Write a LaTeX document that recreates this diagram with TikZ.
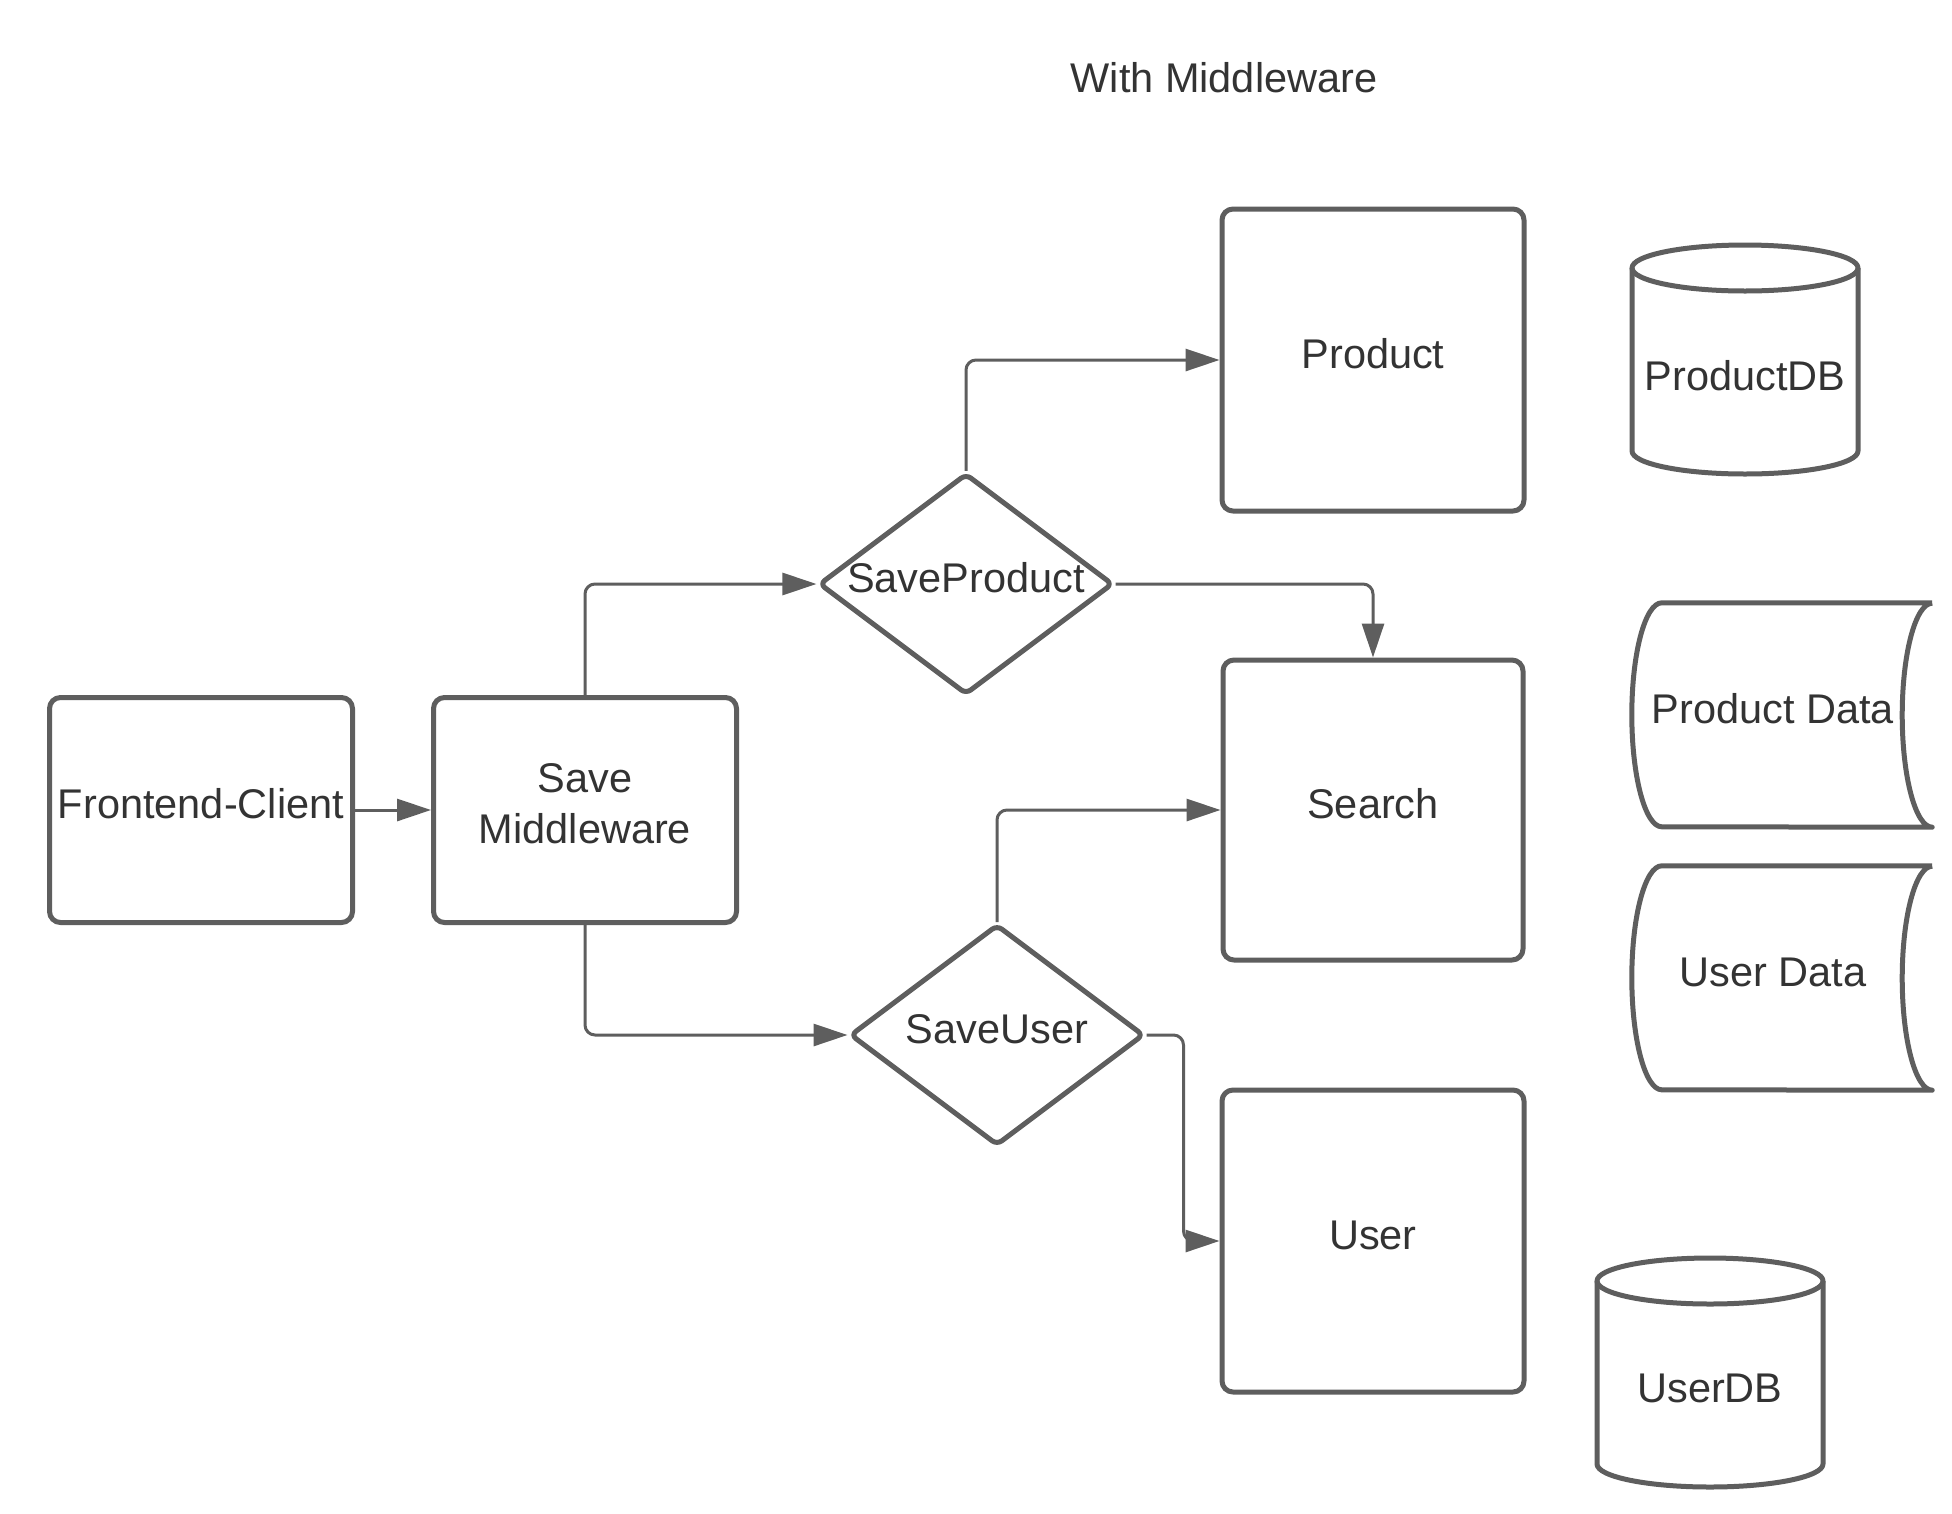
\documentclass[tikz,border=0pt]{standalone}
\usepackage{fontspec}
\setmainfont{Liberation Sans}
\usepackage{xcolor}
\usetikzlibrary{arrows.meta,shapes.geometric}

\definecolor{linegray}{HTML}{5E5E5E}
\definecolor{textgray}{HTML}{333333}

\begin{document}
\begin{tikzpicture}[x=1pt,y=-1pt,line join=round]
        \tikzstyle{basenode}=[
            text=textgray,
            font=\fontsize{41.5}{51}\selectfont,
            inner sep=0pt,
            text depth=13pt
        ]
        \tikzstyle{boxnode}=[
            basenode,
            rectangle,
            draw=linegray,
            line width=5pt,
            rounded corners=11pt,
            text height=29.5pt,
            minimum width=302pt,
            minimum height=302pt
        ]
        \tikzstyle{decnode}=[
            basenode,
            diamond,
            aspect=1.33,
            draw=linegray,
            line width=5pt,
            rounded corners=6pt,
            text height=29.5pt,
            minimum width=294pt,
            minimum height=221pt
        ]
        \tikzstyle{flatnode}=[basenode, text height=29.5pt]
        \tikzstyle{outline}=[draw=linegray, line width=5pt]
        \tikzstyle{link}=[
            draw=linegray,
            line width=3pt,
            rounded corners=10pt,
            -{Triangle[length=34pt,width=22pt]}
        ]

        \fill[white] (0,0) rectangle (1952,1513);
        \useasboundingbox (0,0) rectangle (1952,1513);

        \node[flatnode] (T) at (1224,84) {With Middleware};

        \node[boxnode, minimum width=303pt, minimum height=225pt] (F) at (201,810) {Frontend-Client};
        \node[boxnode, minimum width=303pt, minimum height=225pt, text height=] (M) at (585,810)
            [align=center] {Save\\Middleware};

        \node[decnode] (SP) at (966,584) {SaveProduct};
        \node[decnode] (SU) at (997,1035) {SaveUser};

        \node[boxnode] (P) at (1373,360) {Product};
        \node[boxnode, minimum width=300pt, minimum height=300pt] (S) at (1373,810) {Search};
        \node[boxnode] (U) at (1373,1241) {User};

        % databases
        \node[flatnode] (PDB) at (1745,382) {ProductDB};
        \draw[outline, shift={(PDB.center)}] (-113,-114) -- (-113,69)
            arc[start angle=180, end angle=0, x radius=113, y radius=23] -- (113,-114);
        \draw[outline, shift={(PDB.center)}] (0,-114) ellipse[x radius=113, y radius=23];

        \node[flatnode] (UDB) at (1710,1394) {UserDB};
        \draw[outline, shift={(UDB.center)}] (-113,-113) -- (-113,70)
            arc[start angle=180, end angle=0, x radius=113, y radius=23] -- (113,-113);
        \draw[outline, shift={(UDB.center)}] (0,-113) ellipse[x radius=113, y radius=23];

        % stored data
        \node[flatnode, minimum width=270pt, minimum height=224pt] (PD) at (1773,715) {Product Data};
        \draw[outline] ([xshift=24pt]PD.north east) -- ([xshift=24pt]PD.north west)
            arc[start angle=-90, end angle=-270, x radius=30, y radius=112]
            -- ([xshift=24pt]PD.south east)
            arc[start angle=90, end angle=270, x radius=30, y radius=112];

        \node[flatnode, minimum width=270pt, minimum height=224pt] (UD) at (1773,978) {User Data};
        \draw[outline] ([xshift=24pt]UD.north east) -- ([xshift=24pt]UD.north west)
            arc[start angle=-90, end angle=-270, x radius=30, y radius=112]
            -- ([xshift=24pt]UD.south east)
            arc[start angle=90, end angle=270, x radius=30, y radius=112];

        \draw[link] (F) -- (M);
        \draw[link] (M.north) |- (SP.west);
        \draw[link] (M.south) |- (SU.west);
        \draw[link] (SP.north) |- (P.west);
        \draw[link] (SP.east) -| (S.north);
        \draw[link] (SU.north) |- (S.west);
        \draw[link] (SU.east) -- ++(37,0) |- (U.west);

    \end{tikzpicture}
\end{document}
